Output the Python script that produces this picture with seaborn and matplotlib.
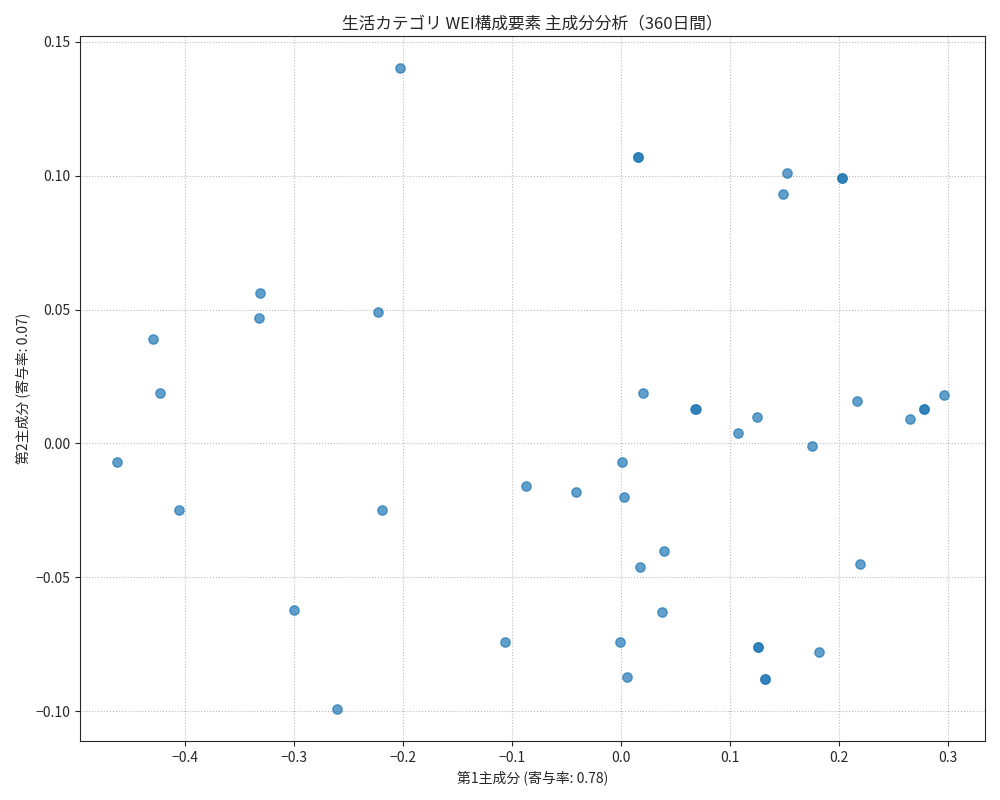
import matplotlib
matplotlib.use("Agg")
import matplotlib.pyplot as plt
import seaborn as sns
import pandas as pd

pc1 = [-0.203, 0.016, 0.016, 0.152, 0.149, 0.203, 0.203, -0.331, -0.332, -0.223, -0.429, -0.423,
       -0.462, -0.405, -0.219, -0.300, -0.260, -0.106, -0.087, -0.041, 0.001, 0.003, 0.020,
       0.068, 0.069, 0.040, 0.018, 0.038, -0.001, 0.006, 0.107, 0.125, 0.126, 0.126, 0.132, 0.132,
       0.175, 0.182, 0.217, 0.219, 0.265, 0.278, 0.278, 0.296]
pc2 = [0.140, 0.107, 0.107, 0.101, 0.093, 0.099, 0.099, 0.056, 0.047, 0.049, 0.039, 0.019,
       -0.007, -0.025, -0.025, -0.062, -0.099, -0.074, -0.016, -0.018, -0.007, -0.020, 0.019,
       0.013, 0.013, -0.040, -0.046, -0.063, -0.074, -0.087, 0.004, 0.010, -0.076, -0.076, -0.088, -0.088,
       -0.001, -0.078, 0.016, -0.045, 0.009, 0.013, 0.013, 0.018]

sns.set_style("ticks")
plt.rcParams['font.family'] = ['Noto Sans CJK JP', 'DejaVu Sans']
df = pd.DataFrame({"pc1": pc1, "pc2": pc2})
fig, ax = plt.subplots(figsize=(10, 8), dpi=100)
sns.scatterplot(data=df, x="pc1", y="pc2", ax=ax, color="#1f77b4", alpha=0.7, s=45,
                edgecolor="#1f77b4", linewidth=1)
ax.set_xlim(-0.496, 0.334)
ax.set_ylim(-0.111, 0.152)
ax.grid(True, linestyle=":", color="#bbbbbb")
ax.set_xlabel("第1主成分 (寄与率: 0.78)")
ax.set_ylabel("第2主成分 (寄与率: 0.07)")
ax.set_title("生活カテゴリ WEI構成要素 主成分分析（360日間）", fontsize=12)
fig.tight_layout()
fig.savefig("out.png")
